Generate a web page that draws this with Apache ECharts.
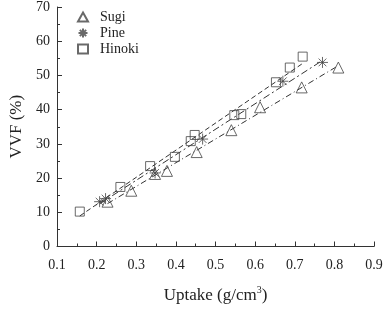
<!DOCTYPE html>
<html>
<head>
<meta charset="utf-8">
<script src="https://cdn.jsdelivr.net/npm/echarts@6/dist/echarts.min.js"></script>
<style>
  html, body { margin: 0; padding: 0; background: #fff; }
  #main { width: 387px; height: 309px; }
</style>
</head>
<body>
<div id="main"></div>
<script>
// data
var sugiX = [0.2275, 0.2875, 0.3475, 0.3775, 0.4525, 0.54, 0.6125, 0.7175, 0.81];
var sugiY = [13.1, 16.3, 21.2, 22.1, 27.6, 34.0, 40.7, 46.5, 52.3];
var pineX = [0.2075, 0.2225, 0.3475, 0.4675, 0.67, 0.77];
var pineY = [13.1, 14.0, 21.5, 31.4, 48.3, 53.8];
var hinokiX = [0.1575, 0.26, 0.335, 0.3975, 0.4375, 0.4475, 0.5475, 0.565, 0.6525, 0.6875, 0.72];
var hinokiY = [10.2, 17.4, 23.5, 26.2, 30.8, 32.6, 38.4, 38.7, 48.0, 52.3, 55.5];

var FONT = '"Liberation Serif", "DejaVu Serif", serif';
var asterisk = 'path://M5,0L5,10M0,5L10,5M1.5,1.5L8.5,8.5M1.5,8.5L8.5,1.5';

function pairs(xs, ys) {
	var out = [];
	for (var i = 0; i < xs.length; i++) out.push([xs[i], ys[i]]);
	return out;
}

// least squares line drawn from min x to max x
function fit(xs, ys) {
	var n = xs.length, sx = 0, sy = 0, sxx = 0, sxy = 0;
	for (var i = 0; i < n; i++) {
		sx += xs[i]; sy += ys[i]; sxx += xs[i] * xs[i]; sxy += xs[i] * ys[i];
	}
	var b = (n * sxy - sx * sy) / (n * sxx - sx * sx);
	var a = (sy - b * sx) / n;
	var x0 = Math.min.apply(null, xs), x1 = Math.max.apply(null, xs);
	return [[x0, a + b * x0], [x1, a + b * x1]];
}

function scatter(name, xs, ys, symbol, size) {
	return {
		name: name,
		type: 'scatter',
		data: pairs(xs, ys),
		symbol: symbol,
		symbolSize: size,
		z: 3,
		itemStyle: { color: 'rgba(255,255,255,0)', borderColor: '#444', borderWidth: 1 }
	};
}

function fitLine(xs, ys, dash) {
	return {
		type: 'line',
		data: fit(xs, ys),
		symbol: 'none',
		silent: true,
		lineStyle: { color: '#333', width: 1, type: dash }
	};
}

var chart = echarts.init(document.getElementById('main'));
chart.setOption({
	animation: false,
	backgroundColor: '#fff',
	grid: { left: 54, right: 13, top: 7, bottom: 61 },
	legend: {
		orient: 'vertical',
		left: 72,
		top: 5,
		itemGap: 2,
		itemWidth: 10,
		itemHeight: 9,
		data: ['Sugi', 'Pine', 'Hinoki'],
		textStyle: { fontFamily: FONT, fontSize: 14, color: '#222', padding: [0, 0, 0, 7] }
	},
	xAxis: {
		type: 'value',
		min: 0.1,
		max: 0.9,
		interval: 0.1,
		name: 'Uptake (g/cm{sup|3})',
		nameLocation: 'middle',
		nameGap: 39,
		nameTextStyle: {
			fontFamily: FONT, fontSize: 17, color: '#222',
			rich: { sup: { fontFamily: FONT, fontSize: 10, color: '#222', verticalAlign: 'top', padding: [0, 0, 10, 0] } }
		},
		splitLine: { show: false },
		axisLine: { lineStyle: { color: '#333' } },
		axisTick: { inside: true, length: 5, lineStyle: { color: '#333' } },
		minorTick: { show: true, splitNumber: 2, length: 3, lineStyle: { color: '#333' } },
		axisLabel: { fontFamily: FONT, fontSize: 14, color: '#222', margin: 12, formatter: function (v) { return v.toFixed(1); } }
	},
	yAxis: {
		type: 'value',
		min: 0,
		max: 70,
		interval: 10,
		name: 'VVF (%)',
		nameLocation: 'middle',
		nameGap: 32,
		nameTextStyle: { fontFamily: FONT, fontSize: 17, color: '#222' },
		splitLine: { show: false },
		axisLine: { show: true, lineStyle: { color: '#333' } },
		axisTick: { show: true, inside: true, length: 5, lineStyle: { color: '#333' } },
		minorTick: { show: true, splitNumber: 2, length: 3, lineStyle: { color: '#333' } },
		axisLabel: { fontFamily: FONT, fontSize: 14, color: '#222', margin: 7 }
	},
	series: [
		scatter('Sugi', sugiX, sugiY, 'triangle', 11),
		scatter('Pine', pineX, pineY, asterisk, 11),
		scatter('Hinoki', hinokiX, hinokiY, 'rect', 9),
		fitLine(sugiX, sugiY, [6, 3, 1, 3]),
		fitLine(pineX, pineY, [7, 3, 2, 3]),
		fitLine(hinokiX, hinokiY, [5, 3])
	]
});
</script>
</body>
</html>
